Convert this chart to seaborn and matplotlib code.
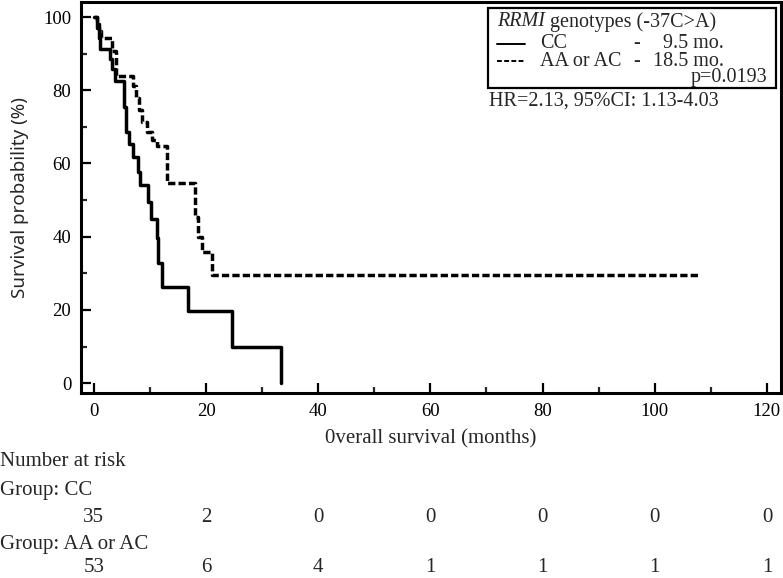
import matplotlib

matplotlib.use('Agg')
import matplotlib.pyplot as plt
import matplotlib.transforms as mtransforms
import seaborn as sns
import pandas as pd

# Kaplan-Meier steps (months, survival %)
cc_time = [0, 0.6, 1.0, 1.1, 2.8, 3.2, 3.7, 5.3, 5.7, 6.2, 6.9, 7.8, 8.2,
           9.6, 10.1, 11.2, 11.5, 12.1, 16.7, 24.6, 33.3]
cc_surv = [100, 97.1, 94.3, 91.4, 88.6, 85.7, 82.6, 75.5, 68.6, 65.3, 61.7,
           57.7, 54.0, 49.5, 44.8, 39.6, 32.8, 26.3, 19.8, 9.9, 0]

aa_time = [0, 0.5, 0.9, 1.2, 3.2, 4.0, 6.9, 7.6, 8.0, 8.5, 9.4, 10.3, 11.2,
           13.0, 13.1, 18.1, 18.5, 19.2, 21.1, 108.0]
aa_surv = [100, 98.1, 96.2, 94.3, 90.6, 84.0, 81.1, 78.0, 74.6, 71.3, 68.6,
           66.4, 64.8, 62.8, 54.6, 45.4, 40.0, 35.8, 29.5, 29.5]

groups = ['CC', 'AA or AC']
medians = ['9.5 mo.', '18.5 mo.']

risk_times = [0, 20, 40, 60, 80, 100, 120]
risk_cc = [35, 2, 0, 0, 0, 0, 0]
risk_aa = [53, 6, 4, 1, 1, 1, 1]

df = pd.concat([
    pd.DataFrame({'time': cc_time, 'surv': cc_surv, 'group': groups[0]}),
    pd.DataFrame({'time': aa_time, 'surv': aa_surv, 'group': groups[1]}),
])

sns.set_style('ticks')
plt.rcParams['font.family'] = ['Liberation Serif', 'DejaVu Serif']

fig = plt.figure(figsize=(7.83, 5.78), dpi=100)
ax = fig.add_axes([0.1034, 0.32, 0.894, 0.6765])

dash_styles = {'CC': '', 'AA or AC': (2.1, 0.9)}
sns.lineplot(data=df, x='time', y='surv', style='group', ax=ax,
             estimator=None, sort=False, color='black', linewidth=2.5,
             drawstyle='steps-post', legend=False, dashes=dash_styles)

ax.set_xlim(-2.3, 122.5)
ax.set_ylim(-2.7, 104.1)
ax.set_xticks(range(0, 121, 20))
ax.set_xticks(range(10, 121, 20), minor=True)
ax.set_yticks(range(0, 101, 20))
ax.set_yticks(range(10, 101, 20), minor=True)
ax.tick_params(axis='both', which='major', direction='in', length=7,
               width=1.6, labelsize=13.5, colors='black', pad=7)
ax.tick_params(axis='both', which='minor', direction='in', length=4,
               width=1.6)
for s in ax.spines.values():
    s.set_linewidth(2.2)
    s.set_color('black')

ax.set_xlabel('0verall survival (months)', fontsize=15, labelpad=7)
ax.set_ylabel('Survival probability (%)', fontsize=13.5, labelpad=10,
              family=['Noto Sans', 'DejaVu Sans'])

# legend box with median survival
box = plt.Rectangle((0.581, 0.78), 0.412, 0.205, transform=ax.transAxes,
                    fill=False, edgecolor='black', linewidth=1.6)
ax.add_patch(box)
fs = 14.5
head = ax.text(0.594, 0.949, 'RRMI', style='italic', fontsize=fs,
               va='center', transform=ax.transAxes)
ax.annotate(' genotypes (-37C>A)', xy=(1, 0.5), xycoords=head,
            fontsize=fs, va='center')
for yy, g, m in zip([0.893, 0.849], groups, medians):
    ax.plot([0.594, 0.634], [yy, yy], color='black', linewidth=1.4,
            dashes=(2.5, 1.2) if dash_styles[g] else (None, None),
            transform=ax.transAxes)
    ax.text(0.656, yy, g, fontsize=fs, va='center', transform=ax.transAxes)
    ax.text(0.794, yy, '-', fontsize=fs, va='center', ha='center',
            transform=ax.transAxes)
    ax.text(0.918, yy, m, fontsize=fs, va='center', ha='right',
            transform=ax.transAxes)
ax.text(0.981, 0.806, 'p=0.0193', fontsize=fs, va='center', ha='right',
        transform=ax.transAxes)
ax.text(0.583, 0.747, 'HR=2.13, 95%CI: 1.13-4.03', fontsize=fs,
        va='center', transform=ax.transAxes)

# number at risk table
trans = mtransforms.blended_transform_factory(ax.transData, fig.transFigure)
fig.text(0.0, 1 - 462 / 578, 'Number at risk', fontsize=15, va='center')
fig.text(0.0, 1 - 490 / 578, 'Group: CC', fontsize=15, va='center')
fig.text(0.0, 1 - 545 / 578, 'Group: AA or AC', fontsize=15, va='center')
for t, a, b in zip(risk_times, risk_cc, risk_aa):
    ax.text(t, 1 - 517 / 578, str(a), fontsize=15, ha='center', va='center',
            transform=trans)
    ax.text(t, 1 - 568 / 578, str(b), fontsize=15, ha='center', va='center',
            transform=trans)

plt.savefig('out.png', dpi=100)
plt.close()
